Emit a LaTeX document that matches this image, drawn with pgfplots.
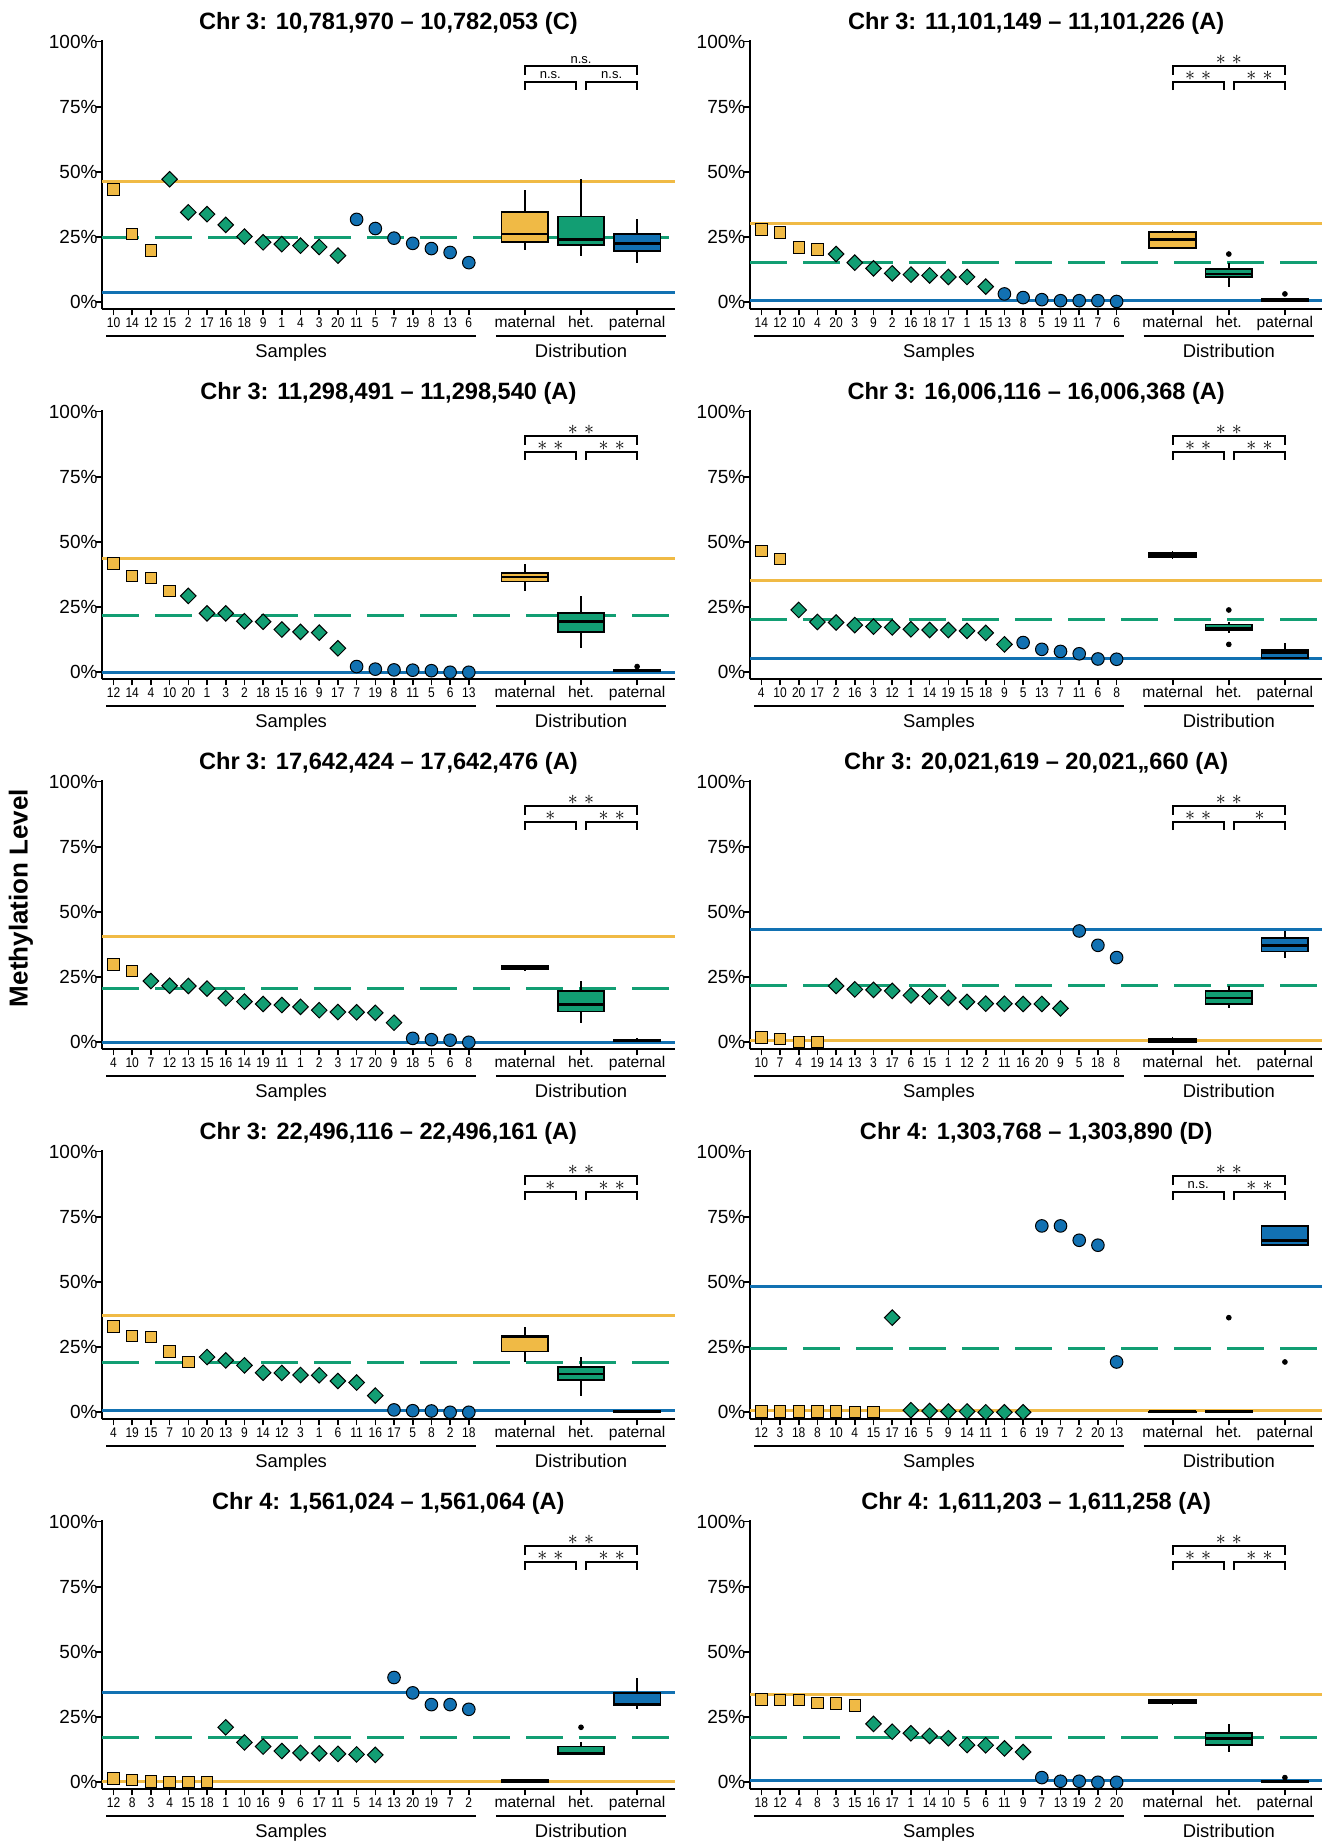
\documentclass[border=0pt]{standalone}
\usepackage{fontspec}
\setmainfont{Liberation Sans}
\newfontfamily\condfont{Liberation Sans}[FakeStretch=0.86]
\usepackage{pgfplots}
\pgfplotsset{compat=1.18}
\usepgfplotslibrary{statistics}
\definecolor{cmat}{HTML}{F0BA45}
\definecolor{chet}{HTML}{129E73}
\definecolor{cpat}{HTML}{1271B2}

\newcommand\DMat{{\rmfamily\fontsize{7.8bp}{8bp}\selectfont maternal}}
\newcommand\DHet{{\rmfamily\fontsize{7.8bp}{8bp}\selectfont het.}}
\newcommand\DPat{{\rmfamily\fontsize{7.8bp}{8bp}\selectfont paternal}}
\newcommand\NSig{{\fontsize{6.5bp}{7bp}\selectfont n.s.}}
\newcommand\SOne{{\fontsize{9.5bp}{10bp}\selectfont$\ast$}}
\newcommand\STwo{{\fontsize{9.5bp}{10bp}\selectfont$\ast$\kern3.1bp$\ast$}}

\pgfplotsset{
  panel/.style={
    scale only axis, width=286.1bp, height=134.75bp,
    anchor=south west,
    xmin=0.4, xmax=31, ymin=-2.7, ymax=100.7,
    axis lines*=left,
    axis line style={line width=0.85bp, black},
    clip=false,
    tick align=outside, major tick length=3bp,
    tick style={line width=0.8bp, black},
    ytick={0,25,50,75,100},
    yticklabels={0\%,25\%,50\%,75\%,100\%},
    xtick={1,2,3,4,5,6,7,8,9,10,11,12,13,14,15,16,17,18,19,20,23,26,29},
    yticklabel style={font=\fontsize{9.5bp}{10bp}\selectfont, anchor=east, inner sep=0pt, xshift=0.8bp},
    xticklabel style={font=\condfont\fontsize{7bp}{8bp}\selectfont, anchor=base, inner sep=0pt, yshift=-6.1bp},
  },
  mat/.style={only marks, mark=square*, mark size=2.85bp, mark options={draw=black, fill=cmat, line width=0.5bp, solid}},
  het/.style={only marks, mark=square*, mark size=2.75bp, mark options={rotate=45, draw=black, fill=chet, line width=0.5bp, solid}},
  pat/.style={only marks, mark=*, mark size=3.15bp, mark options={draw=black, fill=cpat, line width=0.5bp, solid}},
  outl/.style={only marks, mark=*, mark size=1.2bp, black},
}

\newcommand\HL[3]{%
  \addplot[cmat, line width=1.5bp] coordinates {(0.4,#1) (31,#1)};
  \addplot[chet, line width=1.5bp, dash pattern=on 18.5bp off 8bp] coordinates {(0.4,#2) (31,#2)};
  \addplot[cpat, line width=1.5bp] coordinates {(0.4,#3) (31,#3)};
}
\newcommand\BX[7]{%
  \addplot[boxplot prepared={draw direction=y, draw position=#2, lower whisker=#3, lower quartile=#4,
      median=#5, upper quartile=#6, upper whisker=#7, box extend=2.5, whisker extend=0,
      every box/.style={draw=black, fill=#1, line width=0.9bp},
      every median/.style={draw=black, line width=1.3bp},
      every whisker/.style={draw=black, line width=0.7bp}}] coordinates {};
}
\newcommand\BRK[3]{%
  \draw[line width=1bp] (axis cs:23,87.2) -- (axis cs:23,90.6) -- (axis cs:29,90.6) -- (axis cs:29,87.2);
  \draw[line width=1bp] (axis cs:23,81.4) -- (axis cs:23,84.7) -- (axis cs:25.72,84.7) -- (axis cs:25.72,81.4);
  \draw[line width=1bp] (axis cs:26.28,81.4) -- (axis cs:26.28,84.7) -- (axis cs:29,84.7) -- (axis cs:29,81.4);
  \node[inner sep=0pt] at (axis cs:26,93.0) {#1};
  \node[inner sep=0pt] at (axis cs:24.36,87.0) {#2};
  \node[inner sep=0pt] at (axis cs:27.64,87.0) {#3};
}
\newcommand\DECO[1]{%
  \node[anchor=base, font=\bfseries\fontsize{11.8bp}{12bp}\selectfont, inner sep=0pt] at (axis cs:15.7,104.7) {#1};
  \draw[line width=1.2bp] (axis cs:0.6,-12.85) -- (axis cs:20.4,-12.85);
  \draw[line width=1.2bp] (axis cs:21.45,-12.85) -- (axis cs:30.55,-12.85);
  \node[anchor=base, font=\fontsize{9.2bp}{10bp}\selectfont, inner sep=0pt] at (axis cs:10.5,-21.2) {Samples};
  \node[anchor=base, font=\fontsize{9.2bp}{10bp}\selectfont, inner sep=0pt] at (axis cs:26,-21.2) {Distribution};
}

\begin{document}
\begin{tikzpicture}
\path[use as bounding box] (0,0) rectangle (666.5bp,-922.5bp);

% ---------- Panel 1
\begin{axis}[panel, at={(51.15bp,-154.65bp)},
  xticklabels={10,14,12,15,2,17,16,18,9,1,4,3,20,11,5,7,19,8,13,6,\DMat,\DHet,\DPat}]
\HL{46.2}{24.9}{3.7}
\BX{cmat}{23}{19.9}{23.0}{26.2}{34.7}{43.2}
\BX{chet}{26}{17.9}{21.9}{24.0}{32.9}{47.2}
\BX{cpat}{29}{15.2}{19.8}{22.6}{26.3}{31.8}
\addplot[mat] coordinates {(1,43.2)(2,26.2)(3,19.9)};
\addplot[het] coordinates {(4,47.2)(5,34.5)(6,33.8)(7,29.7)(8,25.2)(9,23.0)(10,22.3)(11,21.7)(12,21.2)(13,17.9)};
\addplot[pat] coordinates {(14,31.8)(15,28.3)(16,24.6)(17,22.6)(18,20.6)(19,19.1)(20,15.2)};
\BRK{\NSig}{\NSig}{\NSig}
\DECO{Chr 3: 10,781,970 – 10,782,053 (C)}
\end{axis}

% ---------- Panel 2
\begin{axis}[panel, at={(375.05bp,-154.65bp)},
  xticklabels={14,12,10,4,20,3,9,2,16,18,17,1,15,13,8,5,19,11,7,6,\DMat,\DHet,\DPat}]
\HL{30.2}{15.4}{0.8}
\BX{cmat}{23}{20.3}{20.8}{24.0}{27.0}{27.9}
\BX{chet}{26}{6.0}{9.7}{10.8}{12.9}{15.2}
\BX{cpat}{29}{0.3}{0.6}{0.6}{1.3}{1.8}
\addplot[outl] coordinates {(26,18.5)(29,3.2)};
\addplot[mat] coordinates {(1,27.9)(2,26.8)(3,21.0)(4,20.3)};
\addplot[het] coordinates {(5,18.5)(6,15.2)(7,13.0)(8,11.1)(9,10.6)(10,10.3)(11,9.7)(12,9.7)(13,6.0)};
\addplot[pat] coordinates {(14,3.2)(15,1.8)(16,1.0)(17,0.6)(18,0.6)(19,0.6)(20,0.3)};
\BRK{\STwo}{\STwo}{\STwo}
\DECO{Chr 3: 11,101,149 – 11,101,226 (A)}
\end{axis}

% ---------- Panel 3
\begin{axis}[panel, at={(51.15bp,-339.65bp)},
  xticklabels={12,14,4,10,20,1,3,2,18,15,16,9,17,7,19,8,11,5,6,13,\DMat,\DHet,\DPat}]
\HL{43.5}{21.6}{0.1}
\BX{cmat}{23}{31.1}{34.8}{36.5}{38.2}{41.7}
\BX{chet}{26}{9.2}{15.3}{19.4}{22.6}{29.3}
\BX{cpat}{29}{0.0}{0.3}{0.8}{1.05}{1.2}
\addplot[outl] coordinates {(29,2.2)};
\addplot[mat] coordinates {(1,41.7)(2,37.0)(3,36.1)(4,31.1)};
\addplot[het] coordinates {(5,29.3)(6,22.6)(7,22.6)(8,19.6)(9,19.4)(10,16.4)(11,15.5)(12,15.2)(13,9.2)};
\addplot[pat] coordinates {(14,2.2)(15,1.2)(16,0.9)(17,0.8)(18,0.6)(19,0.0)(20,0.0)};
\BRK{\STwo}{\STwo}{\STwo}
\DECO{Chr 3: 11,298,491 – 11,298,540 (A)}
\end{axis}

% ---------- Panel 4
\begin{axis}[panel, at={(375.05bp,-339.65bp)},
  xticklabels={4,10,20,17,2,16,3,12,1,14,19,15,18,9,5,13,7,11,6,8,\DMat,\DHet,\DPat}]
\HL{35.2}{20.3}{5.2}
\BX{cmat}{23}{43.5}{44.3}{45.05}{45.8}{46.6}
\BX{chet}{26}{15.1}{16.1}{16.85}{18.35}{19.3}
\BX{cpat}{29}{5.0}{5.6}{7.5}{8.6}{11.4}
\addplot[outl] coordinates {(26,23.9)(26,10.7)};
\addplot[mat] coordinates {(1,46.6)(2,43.5)};
\addplot[het] coordinates {(3,23.9)(4,19.3)(5,19.1)(6,18.1)(7,17.5)(8,17.2)(9,16.5)(10,16.2)(11,16.2)(12,15.9)(13,15.1)(14,10.7)};
\addplot[pat] coordinates {(15,11.4)(16,8.8)(17,8.0)(18,7.1)(19,5.1)(20,5.0)};
\BRK{\STwo}{\STwo}{\STwo}
\DECO{Chr 3: 16,006,116 – 16,006,368 (A)}
\end{axis}

% ---------- Panel 5
\begin{axis}[panel, at={(51.15bp,-524.65bp)},
  xticklabels={4,10,7,12,13,15,16,14,19,11,1,2,3,17,20,9,18,5,6,8,\DMat,\DHet,\DPat}]
\HL{40.5}{20.5}{0.1}
\BX{cmat}{23}{27.4}{28.0}{28.6}{29.2}{29.8}
\BX{chet}{26}{7.5}{11.8}{14.5}{19.7}{23.5}
\BX{cpat}{29}{0.0}{0.6}{0.9}{1.1}{1.5}
\addplot[mat] coordinates {(1,29.8)(2,27.4)};
\addplot[het] coordinates {(3,23.5)(4,21.7)(5,21.6)(6,20.6)(7,16.9)(8,15.6)(9,14.7)(10,14.3)(11,13.6)(12,12.3)(13,11.6)(14,11.5)(15,11.3)(16,7.5)};
\addplot[pat] coordinates {(17,1.5)(18,1.0)(19,0.8)(20,0.0)};
\BRK{\STwo}{\SOne}{\STwo}
\DECO{Chr 3: 17,642,424 – 17,642,476 (A)}
\end{axis}

% ---------- Panel 6
\begin{axis}[panel, at={(375.05bp,-524.65bp)},
  xticklabels={10,7,4,19,14,13,3,17,6,15,1,12,2,11,16,20,9,5,18,8,\DMat,\DHet,\DPat}]
\HL{0.5}{21.9}{43.2}
\BX{cmat}{23}{0.1}{0.1}{0.7}{1.45}{1.9}
\BX{chet}{26}{13.0}{14.8}{17.0}{19.7}{21.6}
\BX{cpat}{29}{32.5}{34.85}{37.2}{39.95}{42.7}
\addplot[mat] coordinates {(1,1.9)(2,1.3)(3,0.1)(4,0.1)};
\addplot[het] coordinates {(5,21.6)(6,20.3)(7,20.1)(8,19.7)(9,18.0)(10,17.6)(11,17.0)(12,15.5)(13,14.8)(14,14.8)(15,14.7)(16,14.7)(17,13.0)};
\addplot[pat] coordinates {(18,42.7)(19,37.2)(20,32.5)};
\BRK{\STwo}{\STwo}{\SOne}
\DECO{Chr 3: 20,021,619 – 20,021,,660 (A)}
\end{axis}

% ---------- Panel 7
\begin{axis}[panel, at={(51.15bp,-709.65bp)},
  xticklabels={4,19,15,7,10,20,13,9,14,12,3,1,6,11,16,17,5,8,2,18,\DMat,\DHet,\DPat}]
\HL{37.3}{19.1}{0.8}
\BX{cmat}{23}{19.4}{23.3}{28.9}{29.3}{32.9}
\BX{chet}{26}{6.4}{12.5}{14.75}{17.3}{21.2}
\BX{cpat}{29}{0.0}{0.0}{0.5}{0.6}{0.9}
\addplot[mat] coordinates {(1,32.9)(2,29.3)(3,28.9)(4,23.3)(5,19.4)};
\addplot[het] coordinates {(6,21.2)(7,19.9)(8,18.0)(9,15.2)(10,15.1)(11,14.3)(12,14.2)(13,12.0)(14,11.4)(15,6.4)};
\addplot[pat] coordinates {(16,0.9)(17,0.6)(18,0.5)(19,0.0)(20,0.0)};
\BRK{\STwo}{\SOne}{\STwo}
\DECO{Chr 3: 22,496,116 – 22,496,161 (A)}
\end{axis}

% ---------- Panel 8
\begin{axis}[panel, at={(375.05bp,-709.65bp)},
  xticklabels={12,3,18,8,10,4,15,17,16,5,9,14,11,1,6,19,7,2,20,13,\DMat,\DHet,\DPat}]
\HL{0.8}{24.6}{48.2}
\BX{cmat}{23}{0.0}{0.15}{0.3}{0.3}{0.3}
\BX{chet}{26}{0.0}{0.0}{0.3}{0.6}{0.8}
\BX{cpat}{29}{64.1}{64.1}{66.0}{71.5}{71.5}
\addplot[outl] coordinates {(26,36.3)(29,19.3)};
\addplot[mat] coordinates {(1,0.3)(2,0.3)(3,0.3)(4,0.3)(5,0.3)(6,0.0)(7,0.0)};
\addplot[het] coordinates {(8,36.3)(9,0.8)(10,0.5)(11,0.3)(12,0.3)(13,0.0)(14,0.0)(15,0.0)};
\addplot[pat] coordinates {(16,71.5)(17,71.5)(18,66.0)(19,64.1)(20,19.3)};
\BRK{\STwo}{\NSig}{\STwo}
\DECO{Chr 4: 1,303,768 – 1,303,890 (D)}
\end{axis}

% ---------- Panel 9
\begin{axis}[panel, at={(51.15bp,-894.65bp)},
  xticklabels={12,8,3,4,15,18,1,10,16,9,6,17,11,5,14,13,20,19,7,2,\DMat,\DHet,\DPat}]
\HL{0.3}{17.1}{34.3}
\BX{cmat}{23}{0.0}{0.0}{0.15}{0.75}{1.4}
\BX{chet}{26}{10.5}{10.9}{11.3}{13.7}{15.3}
\BX{cpat}{29}{28.0}{29.8}{29.8}{34.3}{40.2}
\addplot[outl] coordinates {(26,21.1)};
\addplot[mat] coordinates {(1,1.4)(2,0.9)(3,0.3)(4,0.0)(5,0.0)(6,0.0)};
\addplot[het] coordinates {(7,21.1)(8,15.3)(9,13.7)(10,12.0)(11,11.3)(12,11.1)(13,10.9)(14,10.7)(15,10.5)};
\addplot[pat] coordinates {(16,40.2)(17,34.3)(18,29.8)(19,29.8)(20,28.0)};
\BRK{\STwo}{\STwo}{\STwo}
\DECO{Chr 4: 1,561,024 – 1,561,064 (A)}
\end{axis}

% ---------- Panel 10
\begin{axis}[panel, at={(375.05bp,-894.65bp)},
  xticklabels={18,12,4,8,3,15,16,17,1,14,10,5,6,11,9,7,13,19,2,20,\DMat,\DHet,\DPat}]
\HL{33.6}{17.0}{0.6}
\BX{cmat}{23}{29.5}{30.25}{31.0}{31.6}{31.8}
\BX{chet}{26}{11.6}{14.2}{16.9}{18.8}{22.4}
\BX{cpat}{29}{0.0}{0.0}{0.4}{0.4}{0.4}
\addplot[outl] coordinates {(29,1.8)};
\addplot[mat] coordinates {(1,31.8)(2,31.6)(3,31.6)(4,30.4)(5,30.2)(6,29.5)};
\addplot[het] coordinates {(7,22.4)(8,19.4)(9,18.8)(10,17.8)(11,16.9)(12,14.3)(13,14.2)(14,13.0)(15,11.6)};
\addplot[pat] coordinates {(16,1.8)(17,0.4)(18,0.4)(19,0.0)(20,0.0)};
\BRK{\STwo}{\STwo}{\STwo}
\DECO{Chr 4: 1,611,203 – 1,611,258 (A)}
\end{axis}

\node[rotate=90, font=\bfseries\fontsize{13bp}{14bp}\selectfont] at (10.5bp,-449bp) {Methylation Level};
\end{tikzpicture}
\end{document}
